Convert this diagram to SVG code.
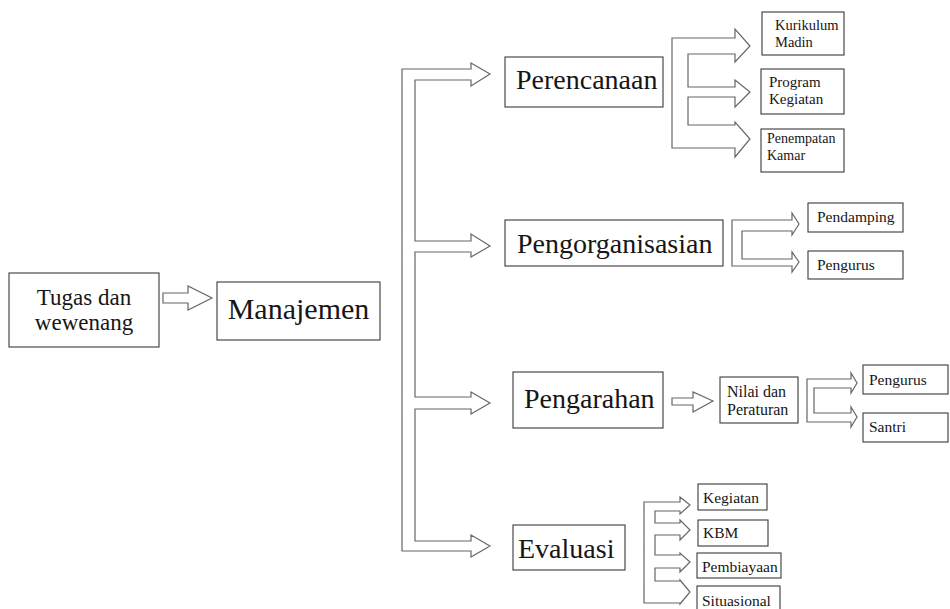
<svg xmlns="http://www.w3.org/2000/svg" width="950" height="609" viewBox="0 0 950 609" font-family="'Liberation Serif','Times New Roman',serif">
<style>
.box{fill:#fff;stroke:#3a3a3a;stroke-width:1.1}
.arr{fill:#fff;stroke:#666;stroke-width:1.2;stroke-linejoin:miter}
text{font-family:"Liberation Serif","Times New Roman",serif;fill:#161616}
.big{font-size:28px}
.sm{font-size:15.5px}
</style>
<rect width="950" height="609" fill="#fff"/>
<g id="connectors">
<path class="arr" d="M163,293 L188,293 L188,286 L212,298 L188,310 L188,303 L163,303 Z"/>
<path class="arr" d="M402,551 L402,69 L471,69 L471,63 L490,74 L471,86 L471,80 L415,80 L415,241 L471,241 L471,234 L490,246 L471,257 L471,252 L415,252 L415,397 L471,397 L471,392 L490,403 L471,414 L471,409 L415,409 L415,541 L471,541 L471,535 L490,546 L471,557 L471,551 Z"/>
<path class="arr" d="M672,148 L672,38 L735,38 L735,29 L750,46 L735,62 L735,54 L688,54 L688,87 L735,87 L735,80 L750,92 L735,107 L735,97 L688,97 L688,125 L735,125 L735,122 L750,139 L735,157 L735,148 Z"/>
<path class="arr" d="M732,266 L732,220 L792,220 L792,213 L799,224 L792,235 L792,231 L742,231 L742,259 L792,259 L792,252 L799,262 L792,272 L792,266 Z"/>
<path class="arr" d="M672,398 L693,398 L693,392 L713,401 L693,412 L693,405 L672,405 Z"/>
<path class="arr" d="M807,422 L807,379 L851,379 L851,373 L857,383 L851,393 L851,388 L814,388 L814,413 L851,413 L851,407 L857,417 L851,427 L851,422 Z"/>
<path class="arr" d="M644,603 L644,502 L680,502 L680,497 L690,505 L680,514 L680,511 L655,511 L655,523 L680,523 L680,520 L690,530 L680,540 L680,535 L655,535 L655,555 L680,555 L680,553 L690,562 L680,572 L680,568 L655,568 L655,581 L680,581 L680,580 L690,592 L680,604 L680,603 Z"/>
</g>
<g id="tugas">
<rect class="box" x="9" y="273" width="150" height="74"/>
<text x="84" y="305" font-size="23" text-anchor="middle">Tugas dan</text>
<text x="84" y="330" font-size="23" text-anchor="middle">wewenang</text>
</g>
<g id="manajemen">
<rect class="box" x="217" y="282" width="163" height="58"/>
<text x="298.5" y="319" font-size="30" text-anchor="middle">Manajemen</text>
</g>
<g id="perencanaan">
<rect class="box" x="505" y="57" width="158" height="50"/>
<text class="big" x="516" y="89">Perencanaan</text>
</g>
<g id="pengorganisasian">
<rect class="box" x="505" y="220" width="218" height="46"/>
<text class="big" x="517" y="253">Pengorganisasian</text>
</g>
<g id="pengarahan">
<rect class="box" x="513" y="372" width="150" height="56"/>
<text class="big" x="524" y="408">Pengarahan</text>
</g>
<g id="evaluasi">
<rect class="box" x="513" y="525" width="112" height="45"/>
<text class="big" x="518" y="558">Evaluasi</text>
</g>
<g id="kurikulum">
<rect class="box" x="762" y="12" width="82" height="43"/>
<text x="775" y="30" font-size="14.5">Kurikulum</text>
<text x="775" y="47" font-size="14.5">Madin</text>
</g>
<g id="program">
<rect class="box" x="761" y="69" width="83" height="45"/>
<text x="769" y="87" font-size="15">Program</text>
<text x="769" y="104" font-size="15">Kegiatan</text>
</g>
<g id="penempatan">
<rect class="box" x="761" y="129" width="83" height="43"/>
<text x="767" y="143" font-size="14">Penempatan</text>
<text x="767" y="160" font-size="14">Kamar</text>
</g>
<g id="pendamping">
<rect class="box" x="808" y="203" width="95" height="29"/>
<text class="sm" x="817" y="222">Pendamping</text>
</g>
<g id="pengurus1">
<rect class="box" x="808" y="251" width="95" height="28"/>
<text class="sm" x="817" y="270">Pengurus</text>
</g>
<g id="nilai">
<rect class="box" x="720" y="377" width="78" height="46"/>
<text x="727" y="397" font-size="16">Nilai dan</text>
<text x="727" y="415" font-size="16">Peraturan</text>
</g>
<g id="pengurus2">
<rect class="box" x="863" y="365" width="85" height="29"/>
<text class="sm" x="869" y="385">Pengurus</text>
</g>
<g id="santri">
<rect class="box" x="863" y="413" width="85" height="29"/>
<text class="sm" x="869" y="432">Santri</text>
</g>
<g id="kegiatan">
<rect class="box" x="698" y="484" width="69" height="26"/>
<text class="sm" x="703" y="503">Kegiatan</text>
</g>
<g id="kbm">
<rect class="box" x="698" y="520" width="70" height="26"/>
<text class="sm" x="703" y="538">KBM</text>
</g>
<g id="pembiayaan">
<rect class="box" x="697" y="553" width="84" height="25"/>
<text class="sm" x="702" y="572">Pembiayaan</text>
</g>
<g id="situasional">
<rect class="box" x="697" y="586" width="83" height="30"/>
<text class="sm" x="702" y="606">Situasional</text>
</g>
</svg>
